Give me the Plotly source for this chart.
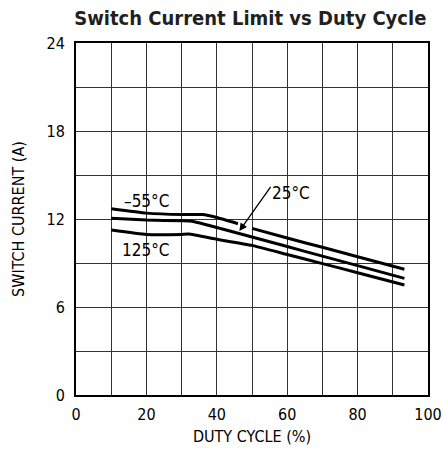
import plotly.graph_objects as go

duty_m55 = [10, 20, 30, 36, 40, 46, None, 50, 60, 70, 80, 93.3]
curr_m55 = [12.7, 12.4, 12.3, 12.3, 12.1, 11.68, None, 11.36, 10.7, 10.07, 9.43, 8.57]

duty_25 = [10, 20, 30, 33, 40, 50, 60, 70, 80, 93.3]
curr_25 = [12.05, 11.93, 11.88, 11.85, 11.42, 10.77, 10.12, 9.47, 8.82, 7.95]

duty_125 = [10, 20, 30, 32, 40, 50, 60, 70, 80, 93.3]
curr_125 = [11.25, 10.95, 10.95, 10.97, 10.62, 10.2, 9.58, 8.96, 8.34, 7.5]

x_ticks = [0, 20, 40, 60, 80, 100]
y_ticks = [0, 6, 12, 18, 24]

FONT = "DejaVu Sans Condensed, Liberation Sans Narrow, Arial Narrow, sans-serif"

fig = go.Figure()
for xs, ys in [(duty_m55, curr_m55), (duty_25, curr_25), (duty_125, curr_125)]:
    fig.add_trace(go.Scatter(x=xs, y=ys, mode="lines", connectgaps=False,
                             line=dict(color="black", width=3, shape="spline", smoothing=0.4),
                             showlegend=False, hoverinfo="skip"))

fig.add_annotation(x=19.9, y=13.2, text="–55°C", showarrow=False,
                   font=dict(size=17, family=FONT, color="black"))
fig.add_annotation(x=19.9, y=9.88, text="125°C", showarrow=False,
                   font=dict(size=17, family=FONT, color="black"))
fig.add_annotation(x=46.4, y=11.18, ax=55.6, ay=14.3, xref="x", yref="y",
                   axref="x", ayref="y", text="", showarrow=True,
                   arrowhead=2, arrowsize=1.2, arrowwidth=1.3, arrowcolor="black")
fig.add_annotation(x=61.1, y=13.77, text="25°C", showarrow=False,
                   font=dict(size=17, family=FONT, color="black"))

fig.update_layout(
    width=443, height=453,
    margin=dict(l=76, r=15, t=43, b=58, autoexpand=False),
    paper_bgcolor="white", plot_bgcolor="white",
    title=dict(text="<b>Switch Current Limit vs Duty Cycle</b>", x=0.565, xanchor="center",
               y=0.961, yanchor="middle",
               font=dict(size=20, family=FONT, color="#231f20")),
    font=dict(family=FONT, color="black", size=16),
)
fig.update_xaxes(range=[0, 100], tickvals=x_ticks, showgrid=True, gridcolor="#333",
                 gridwidth=1, showline=True, mirror=True, linecolor="black", linewidth=2,
                 ticks="", zeroline=False, tickfont=dict(size=16), automargin=False,
                 ticklabelstandoff=4,
                 minor=dict(dtick=10, showgrid=True, gridcolor="#333", gridwidth=1),
                 title=dict(text="DUTY CYCLE (%)", font=dict(size=16), standoff=8))
fig.update_yaxes(range=[0, 24], tickvals=y_ticks, showgrid=True, gridcolor="#333",
                 gridwidth=1, showline=True, mirror=True, linecolor="black", linewidth=2,
                 ticks="", zeroline=False, tickfont=dict(size=16), automargin=False,
                 ticklabelstandoff=6,
                 minor=dict(dtick=3, showgrid=True, gridcolor="#333", gridwidth=1),
                 title=dict(text="SWITCH CURRENT (A)", font=dict(size=16), standoff=18))

fig.write_html("out.html", config={"displayModeBar": False},
               post_script="document.body.style.margin='0px';document.body.style.overflow='hidden';")
